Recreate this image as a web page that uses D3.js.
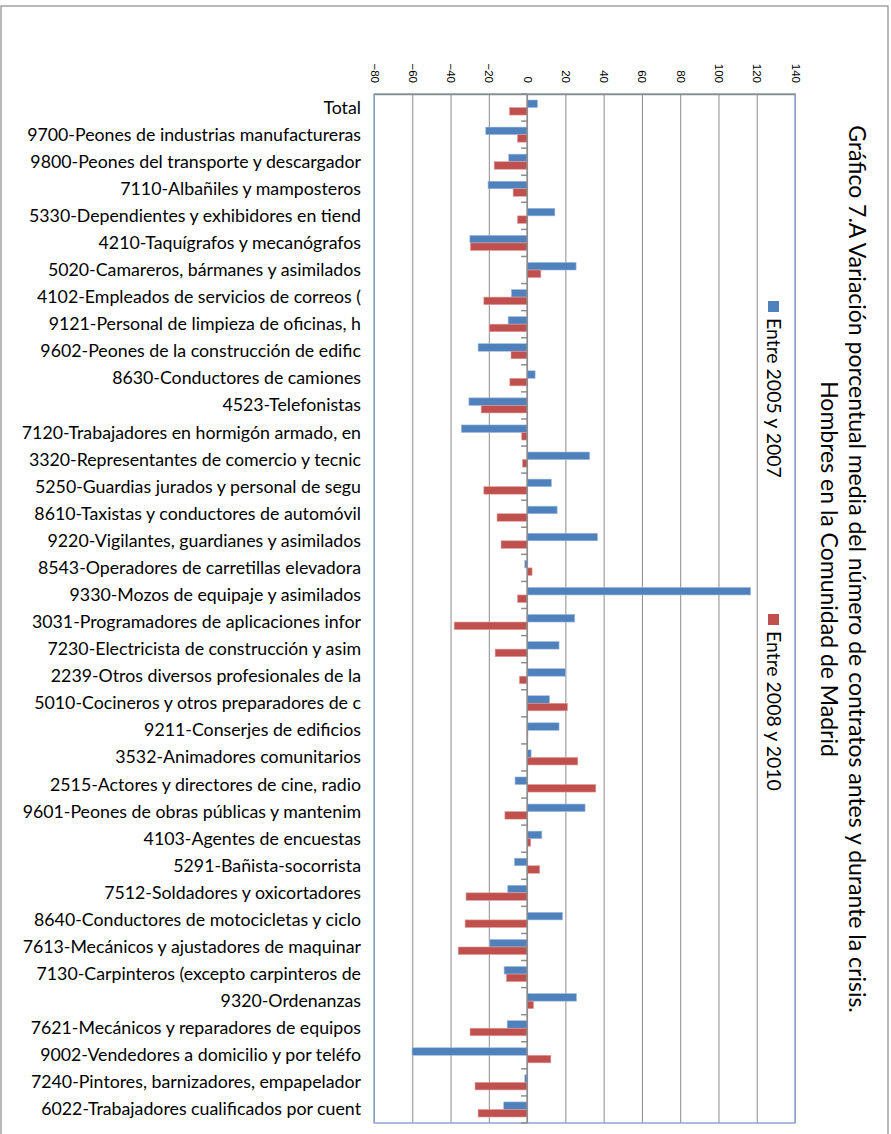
<!DOCTYPE html>
<html>
<head>
<meta charset="utf-8">
<script src="https://cdn.jsdelivr.net/npm/d3@7"></script>
<style>
    body { margin: 0; background: #fff; }
    svg { font-family: Lato, "Open Sans", sans-serif; }
    .grid line { stroke: #8c8c8c; }
    .grid path { display: none; }
    .xaxis path { stroke: #8c8c8c; stroke-width: 1.5; }
    .xaxis text { fill: #000; font-size: 11.5px; }
    .cat { fill: #000; }
    .title { fill: #000; }
    .legend text { fill: #000; }
</style>
</head>
<body>
<div id="chart"></div>
<script>
    const categories = [
        "Total",
        "9700-Peones de industrias manufactureras",
        "9800-Peones del transporte y descargador",
        "7110-Albañiles y mamposteros",
        "5330-Dependientes y exhibidores en tiend",
        "4210-Taquígrafos y mecanógrafos",
        "5020-Camareros, bármanes y asimilados",
        "4102-Empleados de servicios de correos (",
        "9121-Personal de limpieza de oficinas, h",
        "9602-Peones de la construcción de edific",
        "8630-Conductores de camiones",
        "4523-Telefonistas",
        "7120-Trabajadores en hormigón armado, en",
        "3320-Representantes de comercio y tecnic",
        "5250-Guardias jurados y personal de segu",
        "8610-Taxistas y conductores de automóvil",
        "9220-Vigilantes, guardianes y asimilados",
        "8543-Operadores de carretillas elevadora",
        "9330-Mozos de equipaje y asimilados",
        "3031-Programadores de aplicaciones infor",
        "7230-Electricista de construcción y asim",
        "2239-Otros diversos profesionales de la",
        "5010-Cocineros y otros preparadores de c",
        "9211-Conserjes de edificios",
        "3532-Animadores comunitarios",
        "2515-Actores y directores de cine, radio",
        "9601-Peones de obras públicas y mantenim",
        "4103-Agentes de encuestas",
        "5291-Bañista-socorrista",
        "7512-Soldadores y oxicortadores",
        "8640-Conductores de motocicletas y ciclo",
        "7613-Mecánicos y ajustadores de maquinar",
        "7130-Carpinteros (excepto carpinteros de",
        "9320-Ordenanzas",
        "7621-Mecánicos y reparadores de equipos",
        "9002-Vendedores a domicilio y por teléfo",
        "7240-Pintores, barnizadores, empapelador",
        "6022-Trabajadores cualificados por cuent"
    ];

    // Entre 2005 y 2007
    const v2005 = [5.4, -21.6, -9.6, -20.4, 14.5, -29.9, 25.6, -8.2, -9.9, -25.6,
        4.2, -30.4, -34.3, 32.7, 12.7, 15.7, 36.8, -1.2, 116.8, 24.9,
        16.7, 20.0, 11.7, 16.7, 2.1, -6.3, 30.3, 7.7, -6.6, -10.1,
        18.5, -19.5, -12.0, 25.8, -10.4, -60.1, -1.2, -12.2];

    // Entre 2008 y 2010
    const v2008 = [-9.2, -5.0, -17.2, -7.3, -5.0, -29.6, 7.2, -22.6, -19.8, -8.4,
        -9.0, -24.0, -2.8, -2.4, -22.6, -15.7, -13.6, 2.6, -5.0, -38.1,
        -16.7, -4.0, 21.1, 0.4, 26.5, 35.9, -11.6, 1.9, 6.6, -31.9,
        -32.4, -36.0, -10.8, 3.3, -29.8, 12.4, -27.2, -25.6];

    const seriesNames = ["Entre 2005 y 2007", "Entre 2008 y 2010"];
    const seriesColors = ["#4f81bd", "#c0504d"];
    const tickValues = [-80, -60, -40, -20, 0, 20, 40, 60, 80, 100, 120, 140];
    const titleLines = [
        "Gráfico 7.A Variación porcentual media del número de contratos antes y durante la crisis.",
        "Hombres en la Comunidad de Madrid"
    ];

    (function () {
        const W = 891, H = 1134;
        const pL = 374, pR = 795, pT = 94, pB = 1123;

        const svg = d3.select("#chart").append("svg")
            .attr("width", W)
            .attr("height", H);

        // scale a font so that one reference string gets the wanted width
        function fitSize(str, base, target) {
            const t = svg.append("text").style("font-size", base + "px").text(str);
            const len = t.node().getComputedTextLength();
            t.remove();
            return base * target / len;
        }
        const catSize = fitSize(categories[1], 16, 334);
        const titleSize = fitSize(titleLines[0], 20, 888);
        const legendSize = fitSize(seriesNames[0], 16, 160);

        // outer chart border (bottom runs off the page)
        svg.append("rect")
            .attr("x", 1).attr("y", 6)
            .attr("width", 887).attr("height", H + 10)
            .attr("fill", "none")
            .attr("stroke", "#8c8c8c")
            .attr("stroke-width", 1.2);

        const x = d3.scaleLinear().domain([-80, 140]).range([pL, pR]);

        const y = d3.scaleBand()
            .domain(categories)
            .range([pT, pB])
            .paddingInner(0.443)
            .paddingOuter(0.2215);

        const ySub = d3.scaleBand()
            .domain([0, 1])
            .range([0, y.bandwidth()]);

        // gridlines
        svg.append("g")
            .attr("class", "grid")
            .attr("transform", "translate(0," + pT + ")")
            .call(d3.axisTop(x).tickValues(tickValues).tickSize(-(pB - pT)).tickFormat(""));

        // plot area border (blue-grey)
        svg.append("rect")
            .attr("x", pL).attr("y", pT)
            .attr("width", pR - pL).attr("height", pB - pT)
            .attr("fill", "none")
            .attr("stroke", "#8ea6cc")
            .attr("stroke-width", 1.5);

        // bars
        const series = [v2005, v2008];
        series.forEach(function (vals, s) {
            svg.append("g")
                .selectAll("rect")
                .data(vals)
                .join("rect")
                .attr("x", function (d) { return x(Math.min(0, d)); })
                .attr("width", function (d) { return Math.abs(x(d) - x(0)); })
                .attr("y", function (d, i) { return y(categories[i]) + ySub(s); })
                .attr("height", ySub.bandwidth())
                .attr("fill", seriesColors[s])
                .attr("stroke", s === 0 ? "#9fb9dc" : "#dc9e9c")
                .attr("stroke-width", 0.6);
        });

        // category axis at zero with small ticks between categories
        const step = y.step();
        const bounds = d3.range(categories.length + 1).map(function (i) {
            return pT + i * step;
        });
        svg.append("line")
            .attr("x1", x(0)).attr("x2", x(0))
            .attr("y1", pT).attr("y2", pB)
            .attr("stroke", "#8c8c8c")
            .attr("stroke-width", 1.5);
        svg.append("g")
            .selectAll("line")
            .data(bounds)
            .join("line")
            .attr("x1", x(0) - 6).attr("x2", x(0))
            .attr("y1", function (d) { return d; })
            .attr("y2", function (d) { return d; })
            .attr("stroke", "#8c8c8c")
            .attr("stroke-width", 1.5);

        // value axis on top, labels rotated
        const xAxis = svg.append("g")
            .attr("class", "xaxis")
            .attr("transform", "translate(0," + pT + ")")
            .call(d3.axisTop(x).tickValues(tickValues).tickSize(0).tickFormat(d3.format("d")));
        xAxis.selectAll(".tick text")
            .attr("text-anchor", "end")
            .attr("dy", null)
            .attr("transform", "translate(-4,-11) rotate(90)")
            .attr("x", 0).attr("y", 0);

        // category labels on the left
        svg.append("g")
            .selectAll("text")
            .data(categories)
            .join("text")
            .attr("class", "cat")
            .style("font-size", catSize + "px")
            .attr("x", 361)
            .attr("y", function (d) { return y(d) + y.bandwidth() / 2; })
            .attr("dy", "0.34em")
            .attr("text-anchor", "end")
            .text(function (d) { return d; });

        // title, rotated
        const titleX = [849, 821];
        titleLines.forEach(function (t, i) {
            svg.append("text")
                .attr("class", "title")
                .style("font-size", titleSize + "px")
                .attr("text-anchor", "middle")
                .attr("transform", "translate(" + titleX[i] + ",569) rotate(90)")
                .text(t);
        });

        // legend, rotated
        const legendY = [301, 614];
        const legend = svg.append("g").attr("class", "legend");
        seriesNames.forEach(function (name, i) {
            legend.append("rect")
                .attr("x", 768).attr("y", legendY[i])
                .attr("width", 11).attr("height", 11)
                .attr("fill", seriesColors[i]);
            legend.append("text")
                .style("font-size", legendSize + "px")
                .attr("transform", "translate(767," + (legendY[i] + 17) + ") rotate(90)")
                .text(name);
        });
    })();
</script>
</body>
</html>
